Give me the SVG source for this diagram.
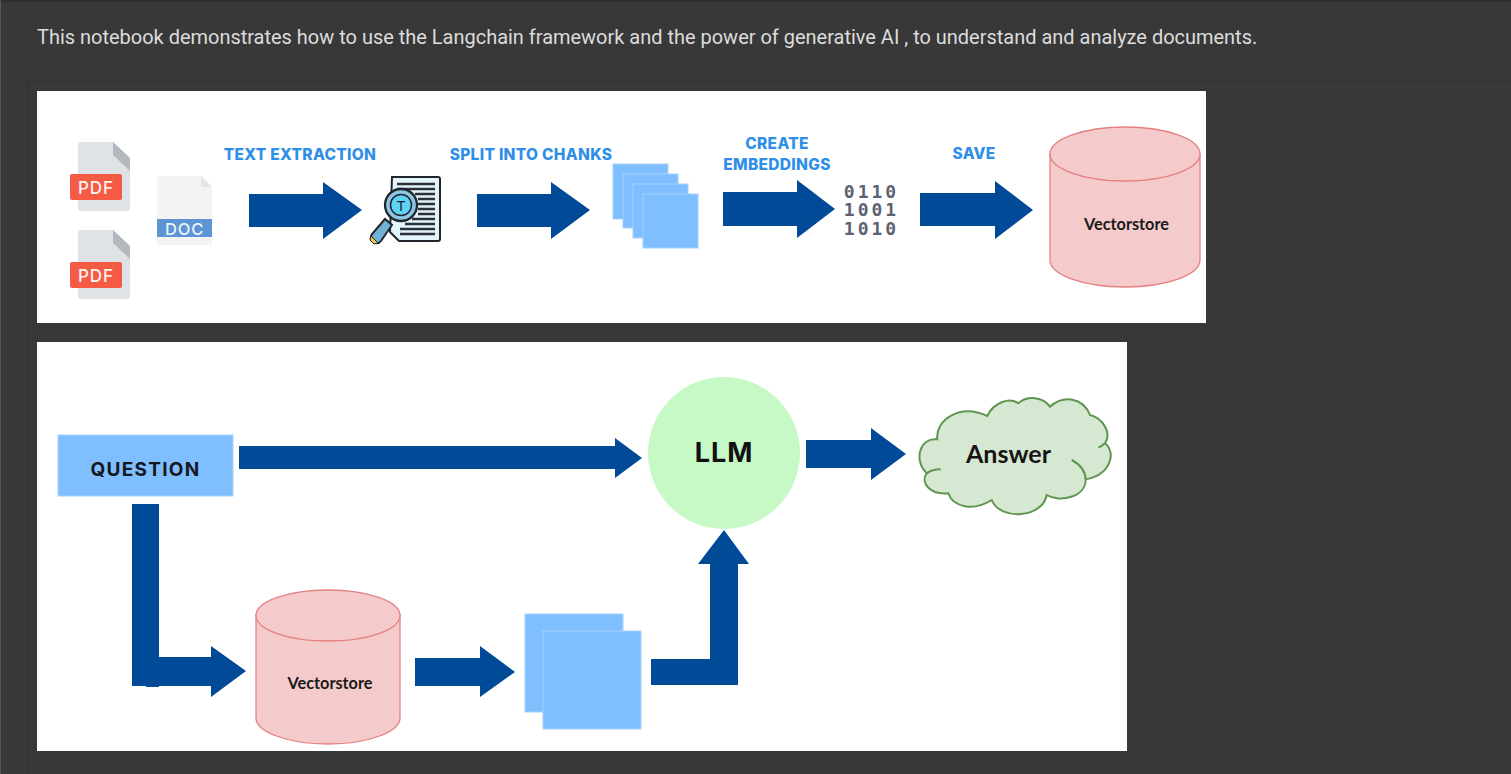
<svg xmlns="http://www.w3.org/2000/svg" width="1511" height="774" viewBox="0 0 1511 774">
<style>
.arrow{fill:#004a97}
.sheet{fill:#80bfff;stroke:#a6d2ff;stroke-width:1}
.cyl{fill:#f5caca;stroke:#e58080;stroke-width:1.3}
.step{font:800 15.5px "Inter","Liberation Sans",sans-serif;fill:#2f8fe8;text-anchor:middle;letter-spacing:.3px}
.vs{font:700 16.3px "Lato","Liberation Sans",sans-serif;fill:#1a1a1a;text-anchor:middle}
.tag{font:500 17px "Inter","Liberation Sans",sans-serif;fill:#fdf3f0;text-anchor:middle;letter-spacing:.9px}
.page{fill:#e0e3e6}
.fold{fill:#b2b8be}
.bin{font:700 18px "DejaVu Sans Mono","Liberation Mono",monospace;fill:#5d6272;text-anchor:middle;letter-spacing:3px}
.line{stroke:#2c3038;stroke-width:2.300;fill:none}
</style>
<rect width="1511" height="774" fill="#383838"/>
<rect width="1511" height="2" fill="#2e2e2e"/>
<rect width="1" height="774" fill="#555"/>
<path d="M27 774V81H1511" fill="none" stroke="#333" stroke-width="1"/>
<text x="37" y="44" font-family="Roboto,'Liberation Sans',sans-serif" font-size="19.980" fill="#dcdcdc">This notebook demonstrates how to use the Langchain framework and the power of generative AI , to understand and analyze documents.</text>
<rect x="37" y="91" width="1169" height="232" fill="#fff"/>
<rect x="37" y="342" width="1090" height="409" fill="#fff"/>

<g id="connectors">
<path class="arrow" d="M249 194H323V182L362 210L323 239V227H249Z"/>
<path class="arrow" d="M477 194H551V182L590 210L551 239V227H477Z"/>
<path class="arrow" d="M723 192H797V180L835 209L797 238V226H723Z"/>
<path class="arrow" d="M920 193H995V181L1033 210L995 239V226H920Z"/>
<path class="arrow" d="M239 446H615V438L642 458L615 478V469H239Z"/>
<path class="arrow" d="M806 440H871V428L906 454L871 480V468H806Z"/>
<path class="arrow" d="M132 504H159V657H211V646L246 671L211 697V686H159V687H146V686H132Z"/>
<path class="arrow" d="M415 658H480V646L515 672L480 697V686H415Z"/>
<path class="arrow" d="M651 659H710V564H698L724 530L749 564H738V685H651Z"/>
</g>

<g id="pdf-1">
<path class="page" d="M81 142H113L130 158V208Q130 211 127 211H81Q78 211 78 208V145Q78 142 81 142Z"/>
<path class="fold" d="M113 142L130 158V171L113 155Z"/>
<rect x="70" y="174" width="52" height="26" rx="2" fill="#f55a45"/>
<text class="tag" x="96" y="193.500">PDF</text>
</g>
<g id="pdf-2">
<path class="page" d="M81 230H113L130 246V296Q130 299 127 299H81Q78 299 78 296V233Q78 230 81 230Z"/>
<path class="fold" d="M113 230L130 246V259L113 243Z"/>
<rect x="70" y="262" width="52" height="26" rx="2" fill="#f55a45"/>
<text class="tag" x="96" y="281.500">PDF</text>
</g>
<g id="doc">
<path d="M157 176H201L212 187V245H157Z" fill="#f3f3f2"/>
<path d="M201 176L212 187H201Z" fill="#e6e6e4"/>
<rect x="157" y="219" width="55" height="18" fill="#5b95d3"/>
<text x="184.500" y="234.500" font-family="Inter,'Liberation Sans',sans-serif" font-size="16.500" font-weight="500" letter-spacing=".8" fill="#eef3f9" text-anchor="middle">DOC</text>
</g>
<g id="text-extraction">
<text class="step" x="300" y="160">TEXT EXTRACTION</text>
<path d="M392 177H438Q440 177 440 179V239Q440 241 438 241H399L390 232Z" fill="#e3f3fb" stroke="#22262c" stroke-width="2"/>
<path class="line" d="M397 184H435M397 189H435M415 194H435M418 199H435M418 204H435M418 209H435M418 214H435M412 219H435M405 224H435M400 229H435M400 234H435"/>
<path d="M385 219L372 234Q369 239 373 242Q378 245 381 241L392 225Z" fill="#6fb2d6" stroke="#22262c" stroke-width="2"/>
<path d="M371 236L378 243L374 244L370 240Z" fill="#f5c93c" stroke="#22262c"/>
<circle cx="401" cy="205" r="16" fill="#8bc6e4" stroke="#22262c" stroke-width="2.300"/>
<circle cx="401" cy="205" r="10.500" fill="#5fd3f5" stroke="#22262c" stroke-width="1.500"/>
<text x="401" y="210.500" font-family="'Liberation Sans',sans-serif" font-size="14" fill="#14202c" text-anchor="middle">T</text>
</g>
<g id="split-chunks">
<text class="step" x="531" y="160">SPLIT INTO CHANKS</text>
<rect class="sheet" x="613" y="164" width="55" height="55"/>
<rect class="sheet" x="623" y="174" width="55" height="54"/>
<rect class="sheet" x="633" y="184" width="55" height="54"/>
<rect class="sheet" x="643" y="194" width="55" height="54"/>
</g>
<g id="embeddings">
<text class="step" x="777" y="149">CREATE</text>
<text class="step" x="777" y="170">EMBEDDINGS</text>
<text class="bin" x="871.500" y="197.500">0110</text>
<text class="bin" x="871.500" y="216">1001</text>
<text class="bin" x="871.500" y="234.500">1010</text>
</g>
<g id="save">
<text class="step" x="974" y="159">SAVE</text>
</g>
<g id="vectorstore-1">
<path class="cyl" d="M1050 154V260C1050 275 1083.600 287 1125 287S1200 275 1200 260V154Z"/>
<ellipse class="cyl" cx="1125" cy="154" rx="75" ry="27"/>
<text class="vs" x="1126.500" y="229.500">Vectorstore</text>
</g>
<g id="question">
<rect class="sheet" x="58" y="435" width="175" height="61"/>
<text x="145.500" y="475.500" font-family="Inter,'Liberation Sans',sans-serif" font-size="19" font-weight="700" letter-spacing="1.300" fill="#14181f" text-anchor="middle">QUESTION</text>
</g>
<g id="llm">
<circle cx="724" cy="453" r="76" fill="#c7f9c7"/>
<text x="724" y="462" font-family="Inter,'Liberation Sans',sans-serif" font-size="27" font-weight="700" letter-spacing="1" fill="#111" text-anchor="middle">LLM</text>
</g>
<g id="answer">
<path d="M937.300 439.300C935 420 960 403.300 987.300 416C994 402 1010 397 1018.300 403.300C1028 395 1043 397 1050 406.700C1063 395 1083 397 1090 415C1103 418.300 1112 433 1105 443.300C1117 453 1110 475 1085.700 479.300C1086 497 1060 503 1046.700 495C1043 518 1000 521 991.700 500C973 511.700 953 507 948.300 493.300C930 495 920 483 926.700 473.300C913 460 920 437 937.300 439.300Z" fill="#d7e8d2" stroke="#5f9650" stroke-width="2"/>
<path d="M926.700 473.300Q933 469 940.700 469.300M1071.700 460Q1085 467 1085.700 479.300M1105 443.300Q1102 446 1098.300 447.700" fill="none" stroke="#5f9650" stroke-width="2"/>
<text x="1008.500" y="463" font-family="Lato,'Liberation Sans',sans-serif" font-size="25" font-weight="700" fill="#151515" text-anchor="middle">Answer</text>
</g>
<g id="vectorstore-2">
<path class="cyl" d="M256 615V718C256 732 288 744 328 744S400 732 400 718V615Z"/>
<ellipse class="cyl" cx="328" cy="615.500" rx="72" ry="25.500"/>
<text class="vs" x="330" y="688.500">Vectorstore</text>
</g>
<g id="chunks">
<rect class="sheet" x="525" y="614" width="98" height="98"/>
<rect class="sheet" x="543" y="631" width="98" height="98"/>
</g>
</svg>
